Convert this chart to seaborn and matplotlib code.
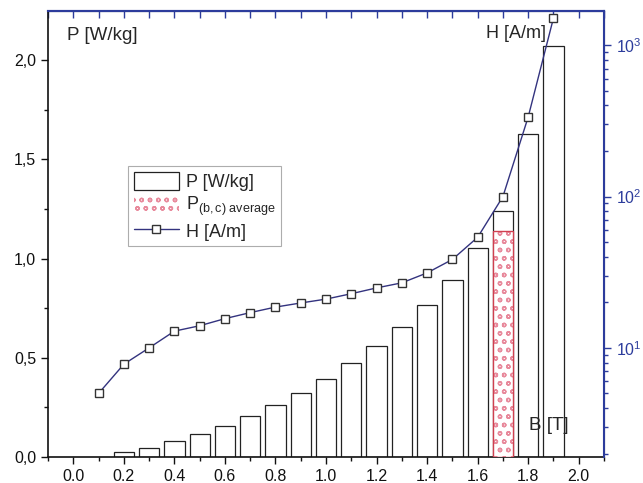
import numpy as np
import pandas as pd
import matplotlib
matplotlib.use('Agg')
import matplotlib.pyplot as plt
import seaborn as sns
from matplotlib.patches import Patch
from matplotlib.lines import Line2D
from matplotlib.ticker import MultipleLocator, FuncFormatter, LogLocator

# Losses per induction level
B_bars = [0.2, 0.3, 0.4, 0.5, 0.6, 0.7, 0.8, 0.9, 1.0, 1.1, 1.2, 1.3, 1.4, 1.5, 1.6, 1.7, 1.8, 1.9]
P_bars = [0.024, 0.047, 0.079, 0.114, 0.158, 0.207, 0.26, 0.324, 0.393, 0.472, 0.558, 0.655, 0.764,
          0.892, 1.053, 1.239, 1.630, 2.072]

# Averaged loss at 1.7 T
B_avg = [1.7]
P_avg = [1.139]

# Magnetising field
B_line = [0.1, 0.2, 0.3, 0.4, 0.5, 0.6, 0.7, 0.8, 0.9, 1.0, 1.1, 1.2, 1.3, 1.4, 1.5, 1.6, 1.7, 1.8, 1.9]
H_line = [5.0, 7.8, 10.0, 12.9, 14.0, 15.6, 17.1, 18.6, 19.8, 21.0, 22.8, 24.9, 26.9, 31.3, 38.4,
          53.8, 100, 336, 1514]

sns.set_style('ticks')
plt.rcParams['font.family'] = ['Liberation Sans', 'DejaVu Sans']
plt.rcParams['mathtext.fontset'] = 'custom'
plt.rcParams['mathtext.rm'] = 'Liberation Sans'
plt.rcParams['mathtext.it'] = 'Liberation Sans'

blue = '#2c3c9c'
navy = '#33337f'

fig = plt.figure(figsize=(6.43, 4.83), dpi=100)
ax = fig.add_axes([0.0747, 0.0538, 0.8647, 0.9232])

bars = pd.DataFrame({'B': B_bars, 'P': P_bars})
sns.barplot(data=bars, x='B', y='P', native_scale=True, color='white', saturation=1,
            edgecolor='#222222', linewidth=0.9, width=0.8, ax=ax, zorder=2)

# hatched average bar (pattern + outline)
ax.bar(B_avg, P_avg, width=0.08, facecolor='white', edgecolor='#e88a9c', hatch='oo',
       linewidth=0, zorder=3)
ax.bar(B_avg, P_avg, width=0.08, facecolor='none', edgecolor='#d04050', linewidth=1.0, zorder=4)

ax.set_xlim(-0.1, 2.1)
ax.set_ylim(0, 2.247)
ax.set_xlabel('')
ax.set_ylabel('')
ax.xaxis.set_major_locator(MultipleLocator(0.2))
ax.xaxis.set_minor_locator(MultipleLocator(0.1))
ax.yaxis.set_major_locator(MultipleLocator(0.5))
ax.yaxis.set_minor_locator(MultipleLocator(0.25))
ax.xaxis.set_major_formatter(FuncFormatter(lambda v, p: f'{v:.1f}'))
ax.yaxis.set_major_formatter(FuncFormatter(lambda v, p: f'{v:.1f}'.replace('.', ',')))
ax.tick_params(axis='both', which='major', direction='out', length=5, width=1.0,
               labelsize=11.5, colors='#111111')
ax.tick_params(axis='both', which='minor', direction='out', length=3, width=1.0, colors='#111111')
for s in ['left', 'bottom']:
    ax.spines[s].set_color('#111111')
    ax.spines[s].set_linewidth(1.2)

# top ticks (blue, inward)
top = ax.secondary_xaxis('top')
top.xaxis.set_major_locator(MultipleLocator(0.1))
top.tick_params(axis='x', direction='in', length=5, width=1.0, colors=blue, labeltop=False)
top.spines['top'].set_color(blue)
top.spines['top'].set_linewidth(1.5)

# H on log axis
ax2 = ax.twinx()
line = pd.DataFrame({'B': B_line, 'H': H_line})
sns.lineplot(data=line, x='B', y='H', ax=ax2, color=navy, linewidth=1.0, marker='s',
             markersize=6, markerfacecolor='white', markeredgecolor='#333333',
             markeredgewidth=1.0, zorder=5)
ax2.set_yscale('log')
ax2.set_ylim(1.9, 1680)
ax2.set_xlim(-0.1, 2.1)
ax2.set_ylabel('')
ax2.yaxis.set_major_locator(LogLocator(base=10, numticks=10))
ax2.yaxis.set_minor_locator(LogLocator(base=10, subs=np.arange(2, 10), numticks=10))
ax2.tick_params(axis='y', which='major', direction='out', length=5, width=1.0, colors=blue,
                labelsize=11.5)
ax2.tick_params(axis='y', which='minor', direction='out', length=3, width=1.0, colors=blue)
ax2.spines['right'].set_color(blue)
ax2.spines['right'].set_linewidth(1.5)
ax2.spines['top'].set_color(blue)
ax2.spines['top'].set_linewidth(1.5)
for s in ['left', 'bottom']:
    ax2.spines[s].set_visible(False)

ax.text(-0.023, 2.126, 'P [W/kg]', fontsize=13.5, va='center', ha='left')
ax.text(1.634, 2.136, 'H [A/m]', fontsize=13, va='center', ha='left')
ax.text(1.804, 0.161, 'B [T]', fontsize=13.5, va='center', ha='left', zorder=6)

handles = [
    Patch(facecolor='white', edgecolor='#222222', linewidth=0.9),
    Patch(facecolor='white', edgecolor='#e88a9c', hatch='oo', linewidth=0),
    Line2D([0], [0], color=navy, linewidth=1.0, marker='s', markersize=6,
           markerfacecolor='white', markeredgecolor='#333333'),
]
labels = ['P [W/kg]', r'P$_{\mathregular{(b,c)\ average}}$', 'H [A/m]']
leg = ax2.legend(handles, labels, loc='upper left', bbox_to_anchor=(0.144, 0.652),
                 borderaxespad=0, fontsize=13, frameon=True, fancybox=False,
                 edgecolor='#999999', handlelength=2.5, handleheight=1.2,
                 labelspacing=0.2, borderpad=0.3, handletextpad=0.4)
leg.get_frame().set_linewidth(0.8)

fig.savefig('out.png', dpi=100, facecolor='white')
